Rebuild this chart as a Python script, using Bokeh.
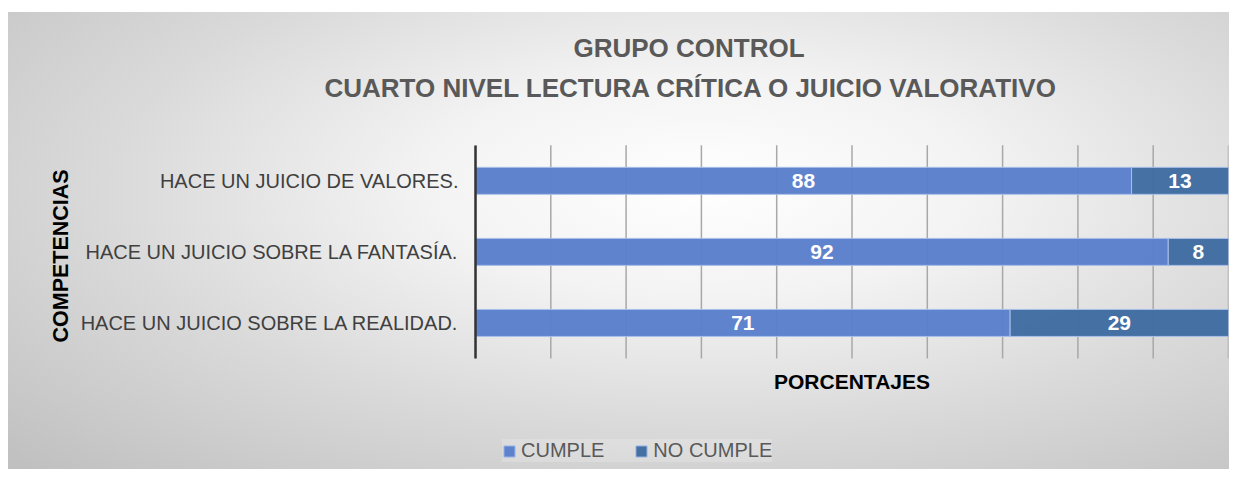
from bokeh.plotting import figure
from bokeh.models import (ColumnDataSource, Range1d, FixedTicker,
                          Title, Label, Legend, LegendItem)
from bokeh.core.properties import value
from bokeh.embed import file_html
from bokeh.resources import INLINE

# ---- data ----
categories = ["HACE UN JUICIO SOBRE LA REALIDAD.",
              "HACE UN JUICIO SOBRE LA FANTASÍA.",
              "HACE UN JUICIO DE VALORES."]
cumple = [71, 92, 88]
no_cumple = [29, 8, 13]
series_names = ["CUMPLE", "NO CUMPLE"]
title_lines = ["GRUPO CONTROL", "CUARTO NIVEL LECTURA CRÍTICA O JUICIO VALORATIVO"]
x_title = "PORCENTAJES"
y_title = "COMPETENCIAS"
grid_ticks = [0, 10, 20, 30, 40, 50, 60, 70, 80, 90, 100]

# ---- 100% stacked shares ----
n = len(categories)
ypos = [i + 0.5 for i in range(n)]
tot = [a + b for a, b in zip(cumple, no_cumple)]
c_share = [a / t * 100 for a, t in zip(cumple, tot)]
n_share = [b / t * 100 for b, t in zip(no_cumple, tot)]

src = ColumnDataSource(dict(
    y=ypos,
    c0=[0] * n, c1=c_share,
    n0=c_share, n1=[a + b for a, b in zip(c_share, n_share)],
    cmid=[s / 2 for s in c_share],
    nmid=[a + b / 2 for a, b in zip(c_share, n_share)],
    clab=[str(v) for v in cumple],
    nlab=[str(v) for v in no_cumple],
))
gsrc = ColumnDataSource(dict(x=grid_ticks, y0=[0] * len(grid_ticks),
                             y1=[n] * len(grid_ticks)))

FONT = "Liberation Sans"
C1 = "#5a7fcb"
C2 = "#3f6ca1"

p = figure(width=1229, height=469,
           x_range=Range1d(0, 100), y_range=Range1d(-1.563, 3.49),
           output_backend="svg", toolbar_location=None, title=None,
           min_border_left=475, min_border_right=1,
           min_border_top=110, min_border_bottom=0)

p.styles = {
    "background": "radial-gradient(ellipse farthest-corner at 57% 38%, "
                  "#ffffff 0%, #f3f3f3 28%, #dadada 60%, #bfbfbf 100%) "
                  "8px 12px / calc(100% - 8px) calc(100% - 12px) no-repeat, #ffffff"
}
p.border_fill_alpha = 0
p.background_fill_alpha = 0
p.outline_line_color = None
p.xgrid.visible = False
p.ygrid.visible = False
p.xaxis.visible = False

# vertical grid lines over the plotting band
p.segment(x0="x", y0="y0", x1="x", y1="y1", source=gsrc,
          line_color="#a8a8a8", line_width=1.5, level="underlay")

r1 = p.hbar(y="y", left="c0", right="c1", height=0.38, source=src,
            fill_color=C1, fill_alpha=0.97, line_color="#a9c0ea", line_width=1)
r2 = p.hbar(y="y", left="n0", right="n1", height=0.38, source=src,
            fill_color=C2, fill_alpha=0.97, line_color="#a9c0ea", line_width=1)

p.text(x="cmid", y="y", text="clab", source=src, text_color="white",
       text_font=value(FONT), text_font_style="bold", text_font_size="21px",
       text_align="center", text_baseline="middle")
p.text(x="nmid", y="y", text="nlab", source=src, text_color="white",
       text_font=value(FONT), text_font_style="bold", text_font_size="21px",
       text_align="center", text_baseline="middle")

# y axis (categories)
yax = p.yaxis[0]
yax.ticker = FixedTicker(ticks=ypos)
yax.major_label_overrides = {y: c for y, c in zip(ypos, categories)}
yax.bounds = (0, n)
yax.minor_tick_line_color = None
yax.axis_line_color = "#333333"
yax.axis_line_width = 2.5
yax.major_tick_line_color = None
yax.major_tick_out = 0
yax.major_label_standoff = 17
yax.major_label_text_font = FONT
yax.major_label_text_font_size = "20px"
yax.major_label_text_color = "#404040"

# y axis title, placed along the category band
p.add_layout(Title(text=y_title, align="left", offset=127,
                   text_font=FONT, text_font_style="bold",
                   text_font_size="21.5px", text_color="black", standoff=10),
             "left")

# x axis title (inside the frame, under the bars)
p.add_layout(Label(x=50, y=88, y_units="screen", text=x_title,
                   text_font=FONT, text_font_style="bold", text_font_size="21px",
                   text_color="black", text_align="center",
                   text_baseline="middle"))

# two title lines (line 2 nearest to the frame)
p.add_layout(Title(text=title_lines[1], align="left", offset=-151,
                   text_font=FONT, text_font_style="bold", text_font_size="26px",
                   text_color="#595959", standoff=16), "above")
p.add_layout(Title(text=title_lines[0], align="left", offset=98,
                   text_font=FONT, text_font_style="bold", text_font_size="26px",
                   text_color="#595959", standoff=0), "above")

legend = Legend(items=[LegendItem(label=series_names[0], renderers=[r1]),
                       LegendItem(label=series_names[1], renderers=[r2])],
                location=(27, 7), orientation="horizontal",
                padding=8, margin=0, spacing=30, label_standoff=5,
                glyph_width=14, glyph_height=14,
                label_text_font=FONT, label_text_font_size="20px",
                label_text_color="#595959",
                background_fill_color="white", background_fill_alpha=0.18,
                border_line_color=None)
p.add_layout(legend, "center")

open("out.html", "w").write(file_html(p, INLINE))
